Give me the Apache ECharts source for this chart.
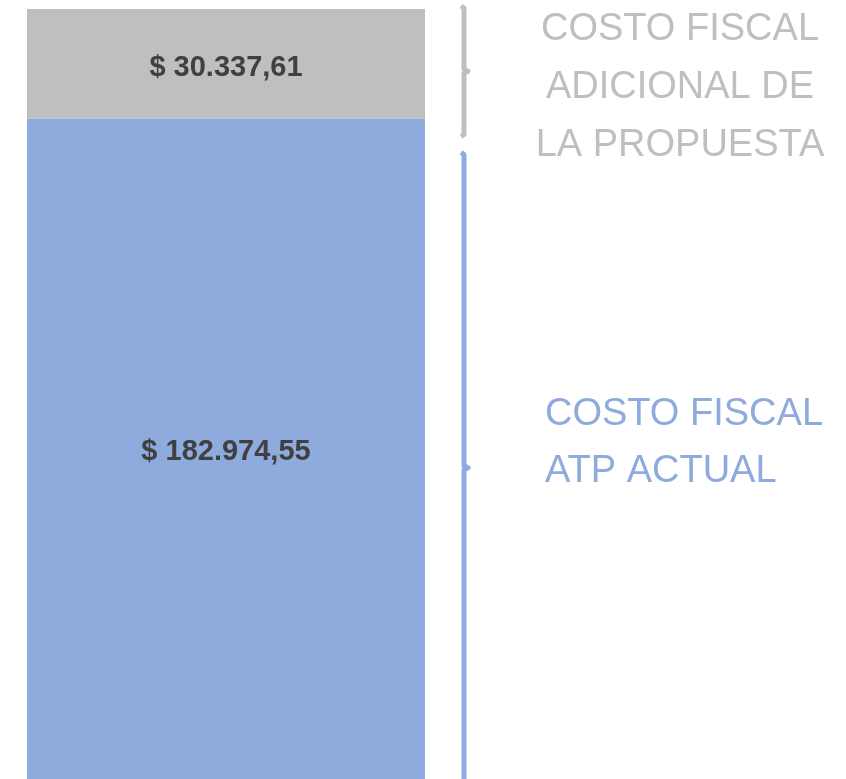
<!DOCTYPE html>
<html>
<head>
<meta charset="utf-8">
<script src="https://cdn.jsdelivr.net/npm/echarts@6/dist/echarts.min.js"></script>
<style>
  html, body { margin: 0; padding: 0; background: #fff; }
  #chart { width: 846px; height: 779px; }
</style>
</head>
<body>
<div id="chart"></div>
<script>
// datos del gráfico
const categories = ['Costo fiscal'];
const atpActual = [182974.55];      // costo fiscal ATP actual
const adicional = [30337.61];       // costo fiscal adicional de la propuesta
const segmentLabels = ['COSTO FISCAL\nATP ACTUAL', 'COSTO FISCAL\nADICIONAL DE\nLA PROPUESTA'];

const BLUE = '#8faadc';
const GRAY = '#bfbfbf';

// formato $ 182.974,55
function fmt(v) {
  const parts = v.toFixed(2).split('.');
  const ent = parts[0].replace(/\B(?=(\d{3})+(?!\d))/g, '.');
  return '$ ' + ent + ',' + parts[1];
}

const total = atpActual[0] + adicional[0];
// tramos para las llaves: [inicio, fin]
const segments = [
  [0, atpActual[0]],
  [atpActual[0], total]
];
const bracketColors = [BLUE, GRAY];
// ajuste manual de las llaves en px (arriba, abajo)
const bracketPad = [[34, 4], [-3, 18]];

const chart = echarts.init(document.getElementById('chart'));

const valueLabel = {
  show: true,
  position: 'inside',
  formatter: p => fmt(p.value),
  fontFamily: 'Liberation Sans',
  fontWeight: 'bold',
  fontSize: 29,
  color: '#404040'
};

const option = {
  animation: false,
  grid: { left: 27, width: 398, top: 9, bottom: 0 },
  xAxis: {
    type: 'category',
    data: categories,
    show: false
  },
  yAxis: {
    type: 'value',
    min: 0,
    max: total,
    show: false
  },
  series: [
    {
      name: 'ATP actual',
      type: 'bar',
      stack: 'costo',
      barWidth: '100%',
      data: atpActual,
      itemStyle: { color: BLUE },
      label: Object.assign({}, valueLabel, { offset: [0, 3] })
    },
    {
      name: 'Adicional',
      type: 'bar',
      stack: 'costo',
      barWidth: '100%',
      data: adicional,
      itemStyle: { color: GRAY },
      label: Object.assign({}, valueLabel, { offset: [0, 4] })
    },
    {
      // llaves a la derecha de cada tramo
      type: 'custom',
      silent: true,
      data: segments.map((s, i) => [0, s[0], s[1], i]),
      renderItem: function (params, api) {
        const i = api.value(3);
        const a = api.coord([0, api.value(1)]);
        const b = api.coord([0, api.value(2)]);
        const x = a[0] + 238;
        const top = b[1] + bracketPad[i][0];
        const bottom = a[1] + bracketPad[i][1];
        const mid = (top + bottom) / 2;
        return {
          type: 'polyline',
          shape: {
            points: [
              [x - 3, top], [x, top + 2], [x, mid - 2], [x + 4, mid],
              [x, mid + 2], [x, bottom - 2], [x - 3, bottom]
            ]
          },
          style: {
            stroke: bracketColors[i],
            lineWidth: 5,
            fill: null,
            lineJoin: 'round'
          }
        };
      }
    }
  ],
  graphic: [
    {
      type: 'text',
      left: 680 - 150,
      top: 1,
      style: {
        text: segmentLabels[1],
        width: 300,
        align: 'center',
        x: 150,
        textAlign: 'center',
        fontFamily: 'Liberation Sans',
        fontSize: 38,
        lineHeight: 58,
        fill: GRAY
      }
    },
    {
      type: 'text',
      left: 545,
      top: 386,
      style: {
        text: segmentLabels[0],
        fontFamily: 'Liberation Sans',
        fontSize: 38,
        lineHeight: 57,
        fill: BLUE
      }
    }
  ]
};

chart.setOption(option);
</script>
</body>
</html>
